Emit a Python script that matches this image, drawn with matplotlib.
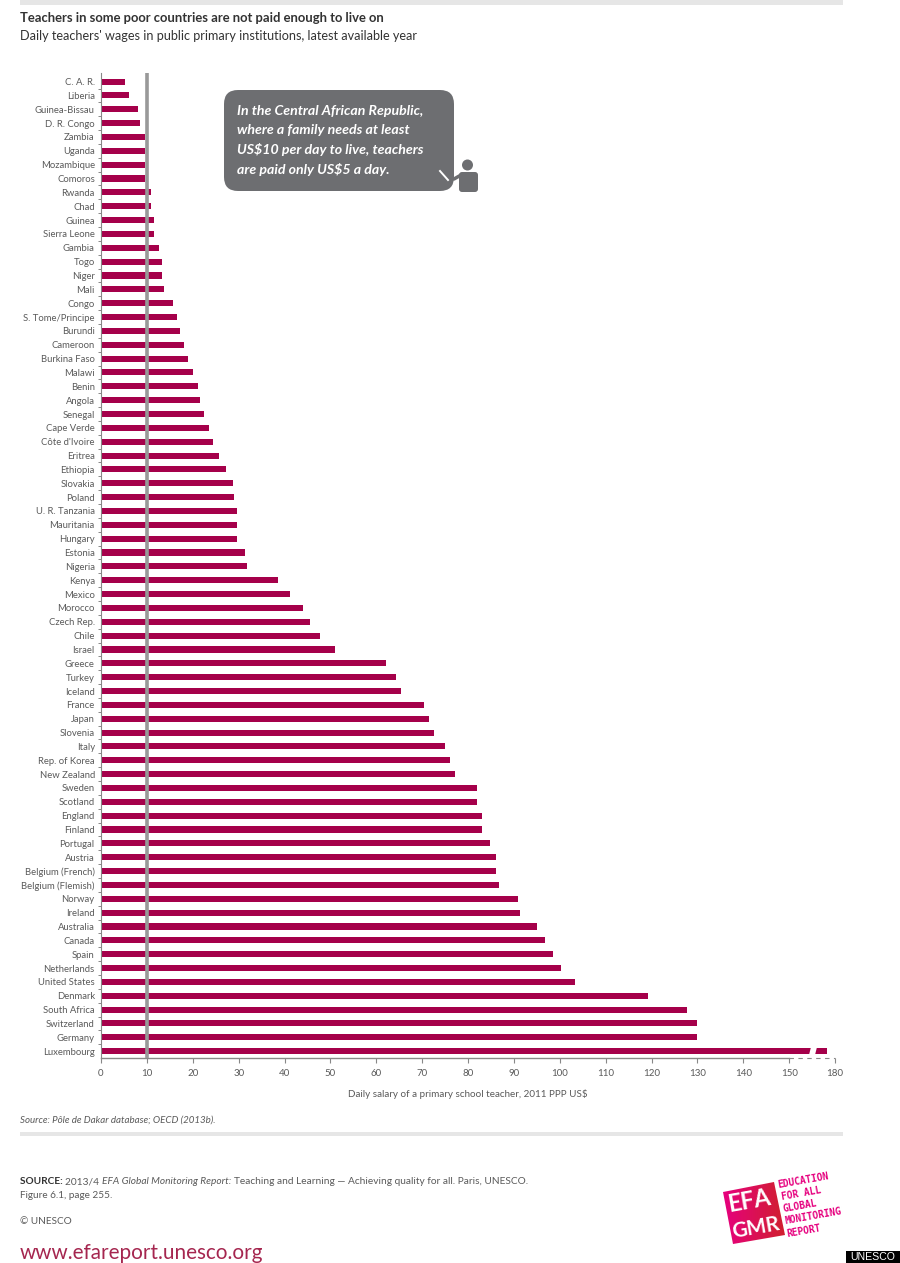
import numpy as np
import matplotlib
matplotlib.use('Agg')
import matplotlib.pyplot as plt
from matplotlib.patches import FancyBboxPatch, Polygon, Rectangle, Circle

countries = ['C. A. R.', 'Liberia', 'Guinea-Bissau', 'D. R. Congo', 'Zambia', 'Uganda', 'Mozambique',
             'Comoros', 'Rwanda', 'Chad', 'Guinea', 'Sierra Leone', 'Gambia', 'Togo', 'Niger', 'Mali',
             'Congo', 'S. Tome/Principe', 'Burundi', 'Cameroon', 'Burkina Faso', 'Malawi', 'Benin',
             'Angola', 'Senegal', 'Cape Verde', "Côte d'Ivoire", 'Eritrea', 'Ethiopia', 'Slovakia',
             'Poland', 'U. R. Tanzania', 'Mauritania', 'Hungary', 'Estonia', 'Nigeria', 'Kenya',
             'Mexico', 'Morocco', 'Czech Rep.', 'Chile', 'Israel', 'Greece', 'Turkey', 'Iceland',
             'France', 'Japan', 'Slovenia', 'Italy', 'Rep. of Korea', 'New Zealand', 'Sweden',
             'Scotland', 'England', 'Finland', 'Portugal', 'Austria', 'Belgium (French)',
             'Belgium (Flemish)', 'Norway', 'Ireland', 'Australia', 'Canada', 'Spain', 'Netherlands',
             'United States', 'Denmark', 'South Africa', 'Switzerland', 'Germany', 'Luxembourg']
wages = [5.2, 6.0, 8.1, 8.5, 9.6, 9.6, 9.6, 9.6, 10.8, 10.8, 11.5, 11.5, 12.7, 13.2, 13.2, 13.8,
         15.8, 16.6, 17.3, 18.1, 19.0, 20.0, 21.2, 21.6, 22.4, 23.6, 24.4, 25.8, 27.3, 28.8,
         29.0, 29.6, 29.6, 29.6, 31.4, 31.8, 38.6, 41.2, 44.0, 45.5, 47.7, 51.0, 62.1, 64.3, 65.4,
         70.4, 71.5, 72.5, 75.0, 76.0, 77.1, 81.9, 81.9, 83.0, 83.0, 84.7, 86.0, 86.0,
         86.7, 91.0, 91.3, 95.0, 96.7, 98.5, 100.2, 103.3, 119.2, 127.7, 130.0, 130.0, 174.5]
x_ticks = [0, 10, 20, 30, 40, 50, 60, 70, 80, 90, 100, 110, 120, 130, 140, 150, 180]
living_wage = 10

BAR = '#a5004a'
TEXT = '#5a5a5a'
RULE = '#e6e6e6'
FONT = 'Lato'
W, H = 900, 1263


# the axis is squeezed above 150, where the original breaks it
def squeeze(x):
    x = np.asarray(x, dtype=float)
    return np.where(x <= 150, x, 150 + (x - 150) / 3)


def unsqueeze(x):
    x = np.asarray(x, dtype=float)
    return np.where(x <= 150, x, 150 + (x - 150) * 3)


plt.rcParams['font.family'] = [FONT, 'DejaVu Sans']
fig = plt.figure(figsize=(9, 12.63), dpi=100)

ax = fig.add_axes([101 / W, 1 - 1057.5 / H, (835 - 101) / W, (1057.5 - 73) / H])
y = np.arange(len(countries))
ax.set_xscale('function', functions=(squeeze, unsqueeze))
ax.barh(y, wages, height=0.44, color=BAR, zorder=2)
ax.axvline(living_wage, color='#999999', lw=2.6, zorder=3)
ax.set_xlim(0, 180)
ax.set_ylim(len(countries) - 1 + 0.46, -0.62)

ax.set_yticks(y)
ax.set_yticklabels(countries, fontsize=6.8, color=TEXT)
ax.set_yticks(y[:-1] + 0.5, minor=True)
ax.tick_params(axis='y', which='major', length=0, pad=4.5)
ax.tick_params(axis='y', which='minor', length=2.5, width=0.7, color='#888888')
ax.set_xticks(x_ticks)
ax.set_xticks([], minor=True)
ax.set_xticklabels([str(t) for t in x_ticks], fontsize=7.0, color=TEXT)
ax.tick_params(axis='x', length=3.5, width=0.8, color='#888888', pad=5)
ax.set_xlabel('Daily salary of a primary school teacher, 2011 PPP US$', fontsize=7.15,
              color=TEXT, labelpad=8)

for side in ['top', 'right']:
    ax.spines[side].set_visible(False)
ax.spines['left'].set_color('#888888')
ax.spines['left'].set_linewidth(0.8)
ax.spines['bottom'].set_color('#888888')
ax.spines['bottom'].set_linewidth(1.0)
ax.spines['bottom'].set_bounds(0, 150)
ax.plot([150, 180], [0, 0], transform=ax.get_xaxis_transform(), color='#888888', lw=0.8,
        ls=(0, (4, 4)), clip_on=False)

# overlay in pixel coordinates for everything around the chart
ov = fig.add_axes([0, 0, 1, 1], facecolor='none')
ov.axis('off')
ov.set_xlim(0, W)
ov.set_ylim(H, 0)

# gap in the Luxembourg bar
ov.add_patch(Polygon([(811, 1047), (817, 1047), (815, 1055), (809, 1055)], fc='white', ec='none'))

ov.add_patch(Rectangle((20, 0), 823, 4.5, fc=RULE, ec='none'))
ov.add_patch(Rectangle((20, 1132), 823, 3.5, fc=RULE, ec='none'))

ov.text(20, 18, 'Teachers in some poor countries are not paid enough to live on', fontsize=9.4,
        fontweight='bold', color='#333333', va='center')
ov.text(20, 36, "Daily teachers' wages in public primary institutions, latest available year",
        fontsize=9.05, color='#333333', va='center')

# callout
ov.add_patch(FancyBboxPatch((224, 90), 230, 101, boxstyle='round,pad=0,rounding_size=14',
                            fc='#6d6e71', ec='none'))
callout = ['In the Central African Republic,', 'where a family needs at least',
           'US$10 per day to live, teachers', 'are paid only US$5 a day.']
for line, py in zip(callout, [111, 130, 149, 169]):
    ov.text(237, py, line.replace('$', r'\$'), fontsize=10.2, fontweight='bold', style='italic',
            color='white', va='center')

# teacher icon
ov.add_patch(Circle((467.5, 165), 5.5, fc='#6d6e71', ec='none'))
ov.add_patch(FancyBboxPatch((459, 172), 19, 20, boxstyle='round,pad=0,rounding_size=3',
                            fc='#6d6e71', ec='none'))
ov.plot([454, 461], [179, 175], color='#6d6e71', lw=2.5, solid_capstyle='round')
ov.plot([440, 448], [171, 180], color='white', lw=1.4)

# source lines
ov.text(20, 1120, 'Source: Pôle de Dakar database; OECD (2013b).', fontsize=7.05, style='italic',
        color=TEXT, va='center')

renderer = fig.canvas.get_renderer()
px = 20
for part, kw in [('SOURCE: ', {'fontweight': 'bold', 'color': '#333333'}),
                 ('2013/4 ', {}),
                 ('EFA Global Monitoring Report: ', {'style': 'italic'}),
                 ('Teaching and Learning — Achieving quality for all. Paris, UNESCO.', {})]:
    style = {'color': TEXT, 'fontsize': 7.27, 'va': 'center'}
    style.update(kw)
    t = ov.text(px, 1182, part.replace(' ', '\u00a0'), **style)
    px = t.get_window_extent(renderer).x1
ov.text(20, 1196, 'Figure 6.1, page 255.', fontsize=7.2, color=TEXT, va='center')
ov.text(20, 1221, '© UNESCO', fontsize=7.2, color=TEXT, va='center')
ov.text(20, 1253, 'www.efareport.unesco.org', fontsize=14.85, color='#a5264f', va='center')

# logo
corners = [(723, 1192), (774, 1182), (785, 1235), (733, 1244)]
logo = Polygon(corners, fc='none', ec='none')
ov.add_patch(logo)
gradient = np.linspace(0, 1, 64).reshape(1, -1)
cmap = matplotlib.colors.LinearSegmentedColormap.from_list('efa', ['#e6007e', '#d0202e'])
im = ov.imshow(gradient, extent=(723, 785, 1244, 1182), cmap=cmap, aspect='auto')
im.set_clip_path(logo)
for word, cx, cy, size in [('EFA', 749, 1201, 17), ('GMR', 756, 1228, 15)]:
    ov.text(cx, cy, word, fontsize=size, fontweight='bold', color='white', ha='center',
            va='center', rotation=10, rotation_mode='anchor')
logo_lines = ['EDUCATION', 'FOR ALL', 'GLOBAL', 'MONITORING', 'REPORT']
logo_pos = [(778, 1185), (781, 1197), (783, 1209), (785, 1221), (787, 1234)]
for word, (tx, ty) in zip(logo_lines, logo_pos):
    ov.text(tx, ty, word, fontsize=6.9, fontweight='bold', color='#e6007e', va='center',
            rotation=10, rotation_mode='anchor', family='DejaVu Sans Mono')

ov.add_patch(Rectangle((846, 1251), 54, 12, fc='black', ec='none'))
ov.text(873, 1257, 'UNESCO', fontsize=7.6, color='white', ha='center', va='center',
        family='Liberation Sans')

ov.set_xlim(0, W)
ov.set_ylim(H, 0)

fig.savefig('out.png', dpi=100)
